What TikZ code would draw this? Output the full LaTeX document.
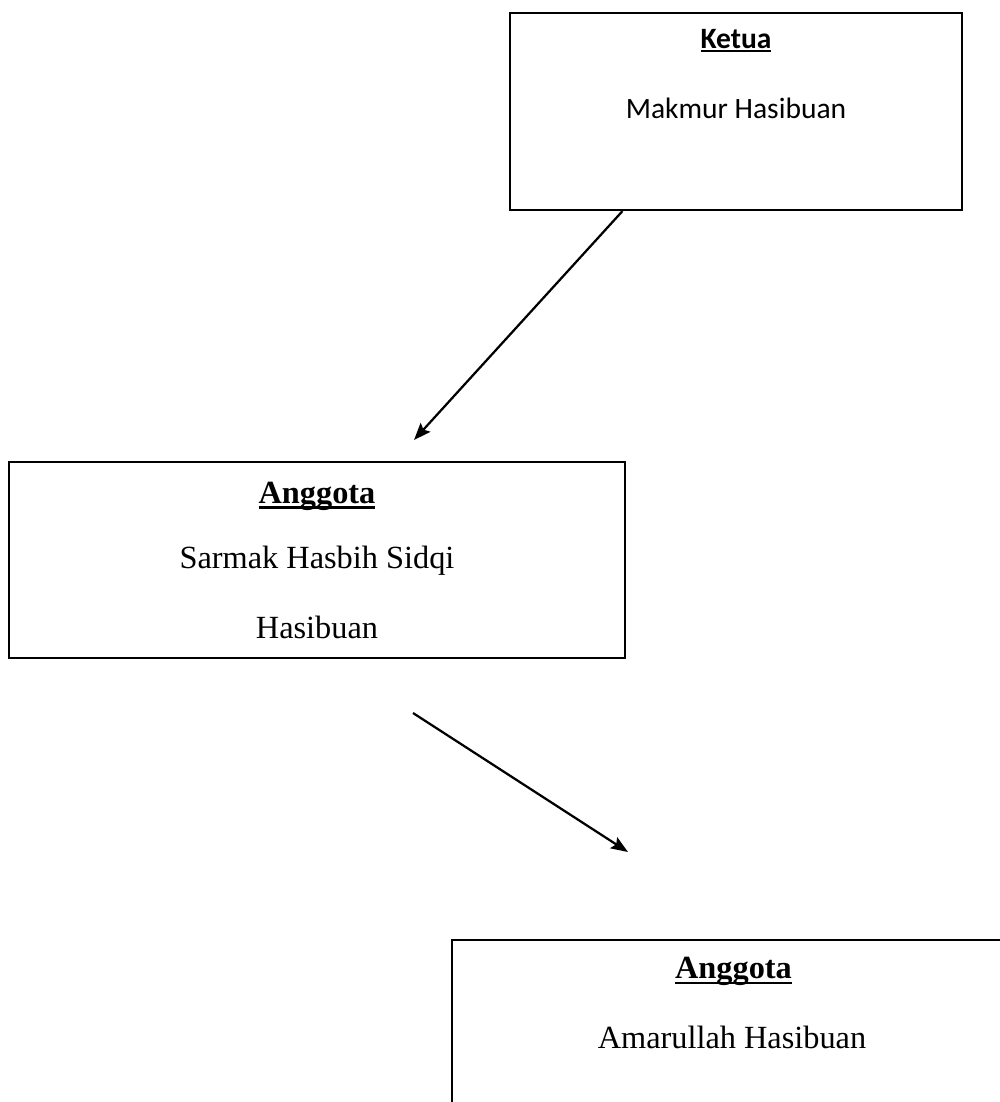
\documentclass[tikz,border=0pt]{standalone}
\usepackage{fontspec}
\setmainfont{Liberation Serif}
\newfontfamily\calibri{Carlito}
\usetikzlibrary{calc,arrows.meta}
\newcommand{\ulword}[3]{%
  \setbox0\hbox{#3}\rlap{\rule[-#1]{\wd0}{#2}}\box0}

\begin{document}
\begin{tikzpicture}[box/.style={draw,line width=0.045cm,inner sep=0pt},
	ttl/.style={anchor=base,inner sep=0pt,font=\fontsize{18.4}{22}\selectfont},
	cal/.style={anchor=base,inner sep=0pt,font=\calibri\fontsize{16.8}{20}\selectfont},
	pijl/.style={line width=0.045cm,-{Stealth[length=0.34cm,width=0.26cm,inset=0.06cm]}}]
					%\draw[help lines] (0,0) grid (20,22);
					\path[use as bounding box] (0,0) rectangle (20,22.04);
					\clip (0,0) rectangle (20,22.04);
					%BOXES
					\node[box,minimum width=9.04cm,minimum height=3.946cm] (ketua) at (14.72,19.813) {};
					\node[box,minimum width=12.32cm,minimum height=3.92cm] (anggota1) at (6.34,10.84) {};
					\node[box,minimum width=11.26cm,minimum height=3.92cm] (anggota2) at (14.67,1.28) {};
					%TEXTS
					\node[cal] (ketuaT) at ([yshift=-0.746cm]ketua.north) {\ulword{0.065cm}{0.04cm}{\bfseries Ketua}};
					\node[cal] (ketuaN) at ([yshift=-2.132cm]ketua.north) {Makmur Hasibuan};
					\node[ttl] (anggota1T) at ([yshift=-0.848cm]anggota1.north) {\ulword{0.11cm}{0.05cm}{\bfseries Anggota}};
					\node[ttl] (anggota1N) at ([yshift=-2.15cm]anggota1.north) {Sarmak Hasbih Sidqi};
					\node[ttl] (anggota1M) at ([yshift=-3.56cm]anggota1.north) {Hasibuan};
					\node[ttl] (anggota2T) at ([yshift=-0.80cm]anggota2.north) {\ulword{0.11cm}{0.05cm}{\bfseries Anggota}};
					\node[ttl] (anggota2N) at ([yshift=-2.2cm,xshift=-0.03cm]anggota2.north) {Amarullah Hasibuan};
					%ARROWS
					\coordinate (a1) at ($(ketua.south west)!0.25!(ketua.south east)$);
					\coordinate (b1) at (8.28,13.24);
					\coordinate (a2) at (8.26,7.78);
					\coordinate (b2) at (12.56,5.0);
					\draw[pijl] (a1) -- (b1);
					\draw[pijl] (a2) -- (b2);
\end{tikzpicture}
\end{document}
